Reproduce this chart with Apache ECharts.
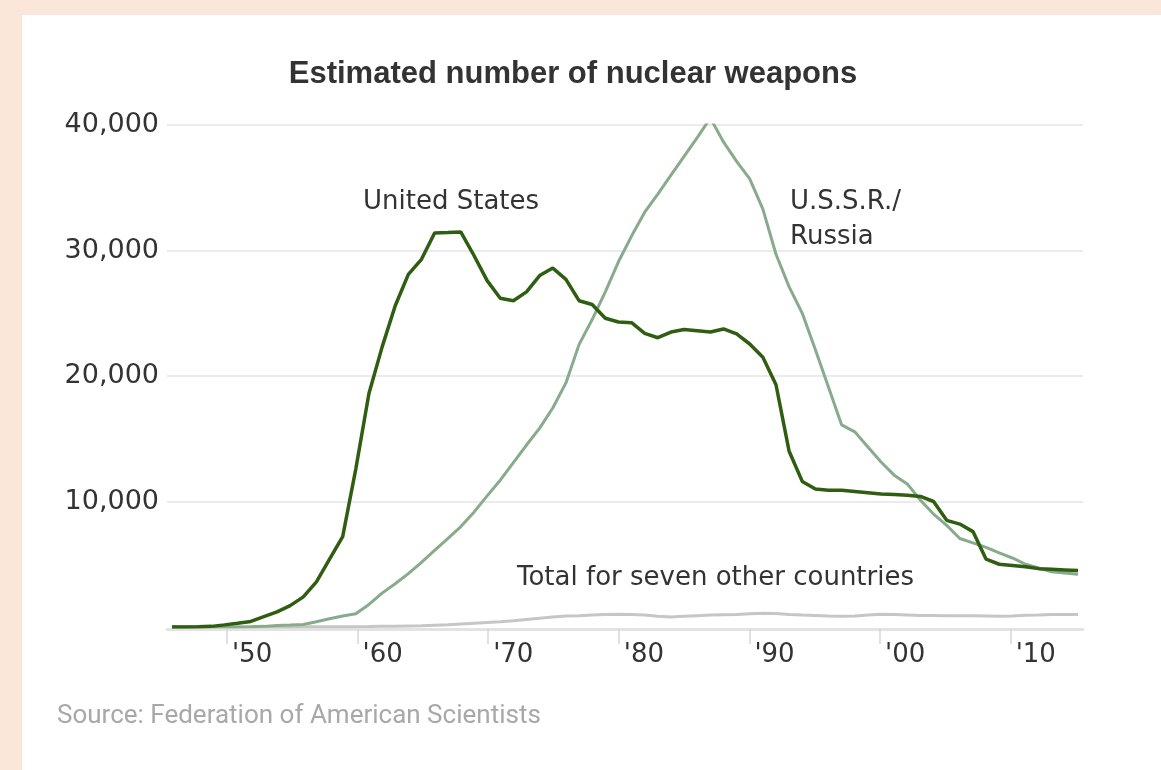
<!DOCTYPE html>
<html><head><meta charset="utf-8">
<script src="https://cdn.jsdelivr.net/npm/echarts@6/dist/echarts.min.js"></script>
<style>
html,body{margin:0;padding:0;background:#fbe6da;width:1161px;height:770px;overflow:hidden;}
#panel{position:absolute;left:22px;top:15px;width:1139px;height:755px;background:#ffffff;}
#chart{position:absolute;left:0;top:0;width:1161px;height:770px;}
</style></head><body>
<div id="panel"></div><div id="chart"></div>
<script>
const years = [1945,1946,1947,1948,1949,1950,1951,1952,1953,1954,1955,1956,1957,1958,1959,1960,1961,1962,1963,1964,1965,1966,1967,1968,1969,1970,1971,1972,1973,1974,1975,1976,1977,1978,1979,1980,1981,1982,1983,1984,1985,1986,1987,1988,1989,1990,1991,1992,1993,1994,1995,1996,1997,1998,1999,2000,2001,2002,2003,2004,2005,2006,2007,2008,2009,2010,2011,2012,2013,2014];
const unitedStates = [2,9,13,50,170,300,440,820,1200,1700,2400,3600,5400,7200,12600,18600,22300,25600,28100,29300,31400,31430,31470,29600,27600,26200,26000,26700,28000,28600,27700,26000,25700,24600,24300,24250,23400,23050,23500,23700,23600,23500,23750,23350,22550,21500,19300,14000,11600,11000,10900,10900,10800,10700,10600,10550,10500,10400,10000,8500,8200,7600,5400,5000,4900,4800,4650,4600,4550,4500];
const ussrRussia = [0,0,0,0,1,5,25,50,120,150,200,420,660,870,1060,1800,2700,3450,4250,5150,6100,7050,8000,9150,10450,11700,13100,14500,15850,17450,19450,22500,24500,26700,29100,31150,33050,34500,36000,37500,39000,40550,38650,37100,35700,33300,29700,27100,25000,22100,19100,16100,15550,14350,13150,12100,11400,10100,9000,8100,7050,6700,6350,5900,5500,5000,4700,4400,4300,4200];
const otherCountries = [0,0,0,0,0,0,0,0,1,5,10,15,20,22,25,30,50,60,80,100,140,180,240,300,360,420,500,600,700,800,880,900,950,1000,1020,1000,950,850,800,850,900,950,980,1000,1050,1100,1080,1000,950,920,880,850,880,950,1020,1000,960,920,920,900,900,900,880,850,880,930,960,1000,1000,1000];
const tickYears = [1950,1960,1970,1980,1990,2000,2010];
const tickLabels = ["'50","'60","'70","'80","'90","'00","'10"];
const yTickValues = [0,10000,20000,30000,40000];
const yTickLabels = ["","10,000","20,000","30,000","40,000"];

const pair = arr => years.map((y,i)=>[y, arr[i]]);
const chart = echarts.init(document.getElementById('chart'), null, {renderer:'canvas'});
const labelFont = 'DejaVu Sans';
chart.setOption({
  animation:false,
  backgroundColor:'transparent',
  grid:{left:167,right:78,top:125,bottom:143,containLabel:false},
  xAxis:[
    {type:'value',min:1944.62,max:2014.38,show:false,gridIndex:0},
    {type:'value',min:1945.41,max:2015.54,gridIndex:0,position:'bottom',offset:2,
     axisLine:{show:true,lineStyle:{color:'#e3e3e3',width:3}},
     axisTick:{show:true,customValues:tickYears,length:15,lineStyle:{color:'#d6d6d6',width:1.5}},
     axisLabel:{show:true,customValues:tickYears,formatter:v=>tickLabels[tickYears.indexOf(v)],
       align:'left',padding:[0,0,0,5],margin:13,fontSize:26,color:'#333',fontFamily:labelFont},
     splitLine:{show:false}}
  ],
  yAxis:{type:'value',min:0,max:40000,interval:10000,
    axisLine:{show:false},axisTick:{show:false},
    axisLabel:{formatter:v=>yTickLabels[yTickValues.indexOf(v)],fontSize:27,color:'#333',margin:8,fontFamily:labelFont},
    splitLine:{show:true,showMinLine:false,lineStyle:{color:'#ebebeb',width:2}}},
  series:[
    {name:'Total for seven other countries',type:'line',xAxisIndex:0,data:pair(otherCountries),symbol:'none',
     lineStyle:{color:'#c6c6c6',width:3},z:3},
    {name:'U.S.S.R./Russia',type:'line',xAxisIndex:0,data:pair(ussrRussia),symbol:'none',
     lineStyle:{color:'#87ab8b',width:3},z:4},
    {name:'United States',type:'line',xAxisIndex:0,data:pair(unitedStates),symbol:'none',
     lineStyle:{color:'#2f5e12',width:3.5},z:5}
  ],
  graphic:[
    {type:'text',x:573,y:74,style:{text:'Estimated number of nuclear weapons',font:'bold 31px "Liberation Sans", Arial, sans-serif',fill:'#333',align:'center',verticalAlign:'middle'}},
    {type:'text',x:363,y:202,style:{text:'United States',font:'26px "DejaVu Sans"',fill:'#333',align:'left',verticalAlign:'middle'}},
    {type:'text',x:790,y:202,style:{text:'U.S.S.R./',font:'26px "DejaVu Sans"',fill:'#333',align:'left',verticalAlign:'middle'}},
    {type:'text',x:790,y:237,style:{text:'Russia',font:'26px "DejaVu Sans"',fill:'#333',align:'left',verticalAlign:'middle'}},
    {type:'text',x:517,y:578,style:{text:'Total for seven other countries',font:'26px "DejaVu Sans"',fill:'#333',align:'left',verticalAlign:'middle'}},
    {type:'text',x:57,y:716,style:{text:'Source: Federation of American Scientists',font:'26px Roboto',fill:'#a8a8a8',align:'left',verticalAlign:'middle'}}
  ]
});
</script></body></html>
